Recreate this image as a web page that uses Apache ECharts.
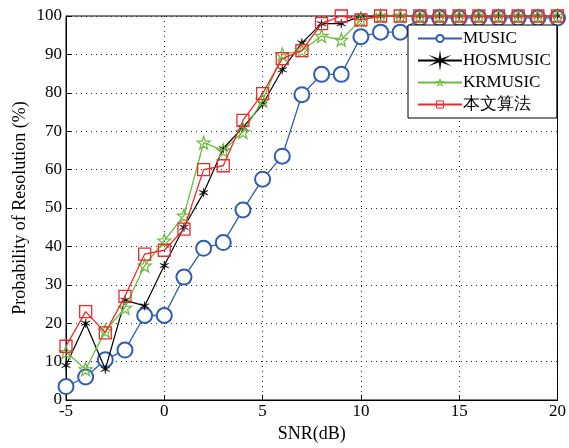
<!DOCTYPE html>
<html>
<head>
<meta charset="utf-8">
<script src="https://cdn.jsdelivr.net/npm/echarts@6/dist/echarts.min.js"></script>
<style>
  html, body { margin: 0; padding: 0; background: #fff; }
  #main { width: 569px; height: 448px; }
</style>
</head>
<body>
<div id="main"></div>
<script>
// 横坐标 SNR(dB)
const snr = [-5, -4, -3, -2, -1, 0, 1, 2, 3, 4, 5, 6, 7, 8, 9, 10, 11, 12, 13, 14, 15, 16, 17, 18, 19, 20];
// 各算法分辨概率 (%)
const music    = [3.5, 6, 10.5, 13, 22, 22, 32, 39.5, 41, 49.5, 57.5, 63.5, 79.5, 84.8, 84.8, 94.6, 95.8, 95.8, 99.5, 99.5, 99.5, 99.5, 99.5, 99.5, 99.5, 99.5];
const hosmusic = [9, 20, 8, 26, 24.5, 35, 45, 54, 65.5, 71, 77, 86, 93, 98, 98, 100, 100, 100, 100, 100, 100, 100, 100, 100, 100, 100];
const krmusic  = [12.5, 8, 18, 24, 35, 41.5, 48, 67, 65, 69.8, 78, 90, 91, 94.8, 93.8, 99, 100, 100, 100, 100, 100, 100, 100, 100, 100, 100];
const proposed = [14, 23, 17.5, 27, 38, 39, 44.5, 60, 61, 72.8, 79.8, 88.9, 91, 98, 100, 99, 100, 100, 100, 100, 100, 100, 100, 100, 100, 100];
const names = ['MUSIC', 'HOSMUSIC', 'KRMUSIC', '本文算法'];

// 颜色
const cBlue = '#2f5db0', cBlack = '#000', cGreen = '#6cba3e', cRed = '#f0282a';

// 标记形状
const asterisk = 'path://M0,-10L1,-1.73L8.66,-5L2,0L8.66,5L1,1.73L0,10L-1,1.73L-8.66,5L-2,0L-8.66,-5L-1,-1.73Z';
const pentagram = 'path://M0,-10L2.35,-3.24L9.51,-3.09L3.8,1.24L5.88,8.09L0,4L-5.88,8.09L-3.8,1.24L-9.51,-3.09L-2.35,-3.24Z';

const font = 'Liberation Serif';

function pairs(ys) {
  return snr.map((x, i) => [x, ys[i]]);
}

const chart = echarts.init(document.getElementById('main'), null, { renderer: 'canvas' });

const option = {
  backgroundColor: '#fff',
  animation: false,
  grid: {
    left: 66, right: 9, top: 16, bottom: 45,
    show: true, borderColor: '#000', borderWidth: 1
  },
  legend: {
    orient: 'vertical',
    left: 408, top: 25,
    data: [
      { name: names[0] },
      { name: names[1] },
      { name: names[2], itemStyle: { color: 'rgba(255,255,255,0)', borderColor: cGreen, borderWidth: 1 } },
      { name: names[3], itemStyle: { color: 'rgba(255,255,255,0)', borderColor: cRed, borderWidth: 1 } }
    ],
    backgroundColor: '#fff',
    borderColor: '#000',
    borderWidth: 1,
    borderRadius: 0,
    padding: [5, 6, 5, 9],
    itemWidth: 44,
    itemHeight: 9,
    itemGap: 5,
    textStyle: { fontFamily: font, fontSize: 17, color: '#000', padding: [0, 0, 0, -4] }
  },
  xAxis: {
    type: 'value',
    min: -5, max: 20, interval: 5,
    name: 'SNR(dB)',
    nameLocation: 'middle',
    nameGap: 25,
    nameMoveOverlap: false,
    nameTextStyle: { fontFamily: font, fontSize: 18, color: '#000' },
    axisLine: { show: true, onZero: false, lineStyle: { color: '#000', width: 1 } },
    axisTick: { show: true, inside: true, length: 5, lineStyle: { color: '#000' } },
    axisLabel: { fontFamily: font, fontSize: 17, color: '#000', margin: 3 },
    splitLine: { show: true, lineStyle: { color: '#222', type: [1, 4], width: 1 } }
  },
  yAxis: {
    type: 'value',
    min: 0, max: 100, interval: 10,
    name: 'Probability of Resolution (%)',
    nameLocation: 'middle',
    nameGap: 37,
    nameMoveOverlap: false,
    nameTextStyle: { fontFamily: font, fontSize: 18, color: '#000' },
    axisLine: { show: true, onZero: false, lineStyle: { color: '#000', width: 1 } },
    axisTick: { show: true, inside: true, length: 5, lineStyle: { color: '#000' } },
    axisLabel: { fontFamily: font, fontSize: 17, color: '#000', margin: 4 },
    splitLine: { show: true, lineStyle: { color: '#222', type: [1, 4], width: 1 } }
  },
  series: [
    {
      name: names[0],
      type: 'line',
      data: pairs(music),
      symbol: 'emptyCircle',
      symbolSize: 15,
      lineStyle: { color: cBlue, width: 1.3 },
      itemStyle: { color: cBlue, borderColor: cBlue, borderWidth: 1.3 },
      z: 2
    },
    {
      name: names[1],
      type: 'line',
      data: pairs(hosmusic),
      symbol: asterisk,
      symbolSize: 9,
      lineStyle: { color: cBlack, width: 1.2 },
      itemStyle: { color: cBlack, borderColor: cBlack, borderWidth: 0.5 },
      z: 3
    },
    {
      name: names[2],
      type: 'line',
      data: pairs(krmusic),
      symbol: pentagram,
      symbolSize: 13,
      lineStyle: { color: cGreen, width: 1.3 },
      itemStyle: { color: 'rgba(255,255,255,0)', borderColor: cGreen, borderWidth: 1.2 },
      z: 4
    },
    {
      name: names[3],
      type: 'line',
      data: pairs(proposed),
      symbol: 'rect',
      symbolSize: 12,
      lineStyle: { color: cRed, width: 1.3 },
      itemStyle: { color: 'rgba(255,255,255,0)', borderColor: cRed, borderWidth: 1.3 },
      z: 5
    }
  ]
};

chart.setOption(option);
</script>
</body>
</html>
